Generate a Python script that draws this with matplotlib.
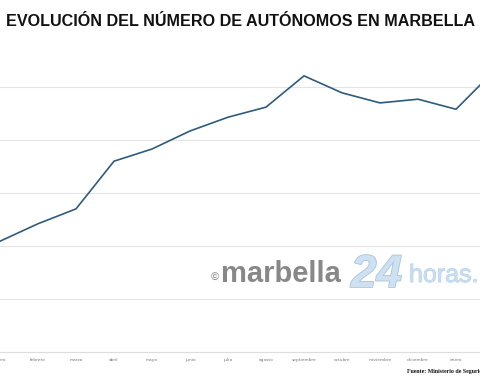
import matplotlib
matplotlib.use("Agg")
import matplotlib.pyplot as plt
import matplotlib.patheffects as pe

# monthly number of self-employed (scale estimated, axis labels not visible)
months = ["enero", "febrero", "marzo", "abril", "mayo", "junio", "julio",
          "agosto", "septiembre", "octubre", "noviembre", "diciembre",
          "enero", "febrero"]
autonomos = [9209, 9242, 9270, 9360, 9383, 9417, 9443,
             9462, 9521, 9489, 9470, 9477, 9458, 9530]
grid_levels = [9000, 9100, 9200, 9300, 9400, 9500]

fig = plt.figure(figsize=(4.8, 3.84), dpi=100)
ax = fig.add_axes([0.0, 32 / 384, 1.0, 312 / 384])

x = list(range(len(months)))
ax.plot(x, autonomos, color="#2f5b7c", lw=1.2, solid_joinstyle="miter")

ax.set_xticks(x)
ax.set_xticklabels(months, fontsize=3.2, color="#777777")
ax.set_yticks(grid_levels)
ax.set_yticklabels([])
ax.set_xlim(0, 480 / 38)
ax.set_ylim(9000, 9000 + 312 / 53 * 100)
ax.tick_params(axis="y", length=0)
ax.tick_params(axis="x", length=0, pad=4)
ax.grid(axis="y", color="#e4e4e4", lw=0.8)
ax.set_axisbelow(True)
for s in ["top", "left", "right"]:
    ax.spines[s].set_visible(False)
ax.spines["bottom"].set_color("#dddddd")
ax.spines["bottom"].set_linewidth(0.8)

fig.text(0.5, 1 - 21 / 384, "EVOLUCIÓN DEL NÚMERO DE AUTÓNOMOS EN MARBELLA",
         ha="center", va="center", fontsize=11.6, fontweight="bold",
         family="Liberation Sans", color="#111111")

# watermark
fig.text(211 / 480, 1 - 278 / 384, "©", fontsize=8, color="#999999",
         fontweight="bold", va="center", family="Liberation Sans")
fig.text(221 / 480, 1 - 274 / 384, "marbella", fontsize=21, color="#888888",
         fontweight="bold", va="center", family="Liberation Sans")
fig.text(351 / 480, 1 - 275 / 384, "24", fontsize=33, color="#cfe0f0",
         fontweight="bold", style="italic", va="center", family="Liberation Sans",
         path_effects=[pe.withStroke(linewidth=1.2, foreground="#a8c4de")])
fig.text(409 / 480, 1 - 275 / 384, "horas.", fontsize=18, color="#c9ddef",
         va="center", family="Liberation Sans",
         path_effects=[pe.withStroke(linewidth=0.6, foreground="#b5cee6")])

fig.text(407 / 480, 1 - 372 / 384, "Fuente: Ministerio de Seguridad Social",
         fontsize=4.2, fontweight="bold", family="Liberation Serif",
         va="center", color="#111111")

fig.savefig("out.png", dpi=100, facecolor="white")
